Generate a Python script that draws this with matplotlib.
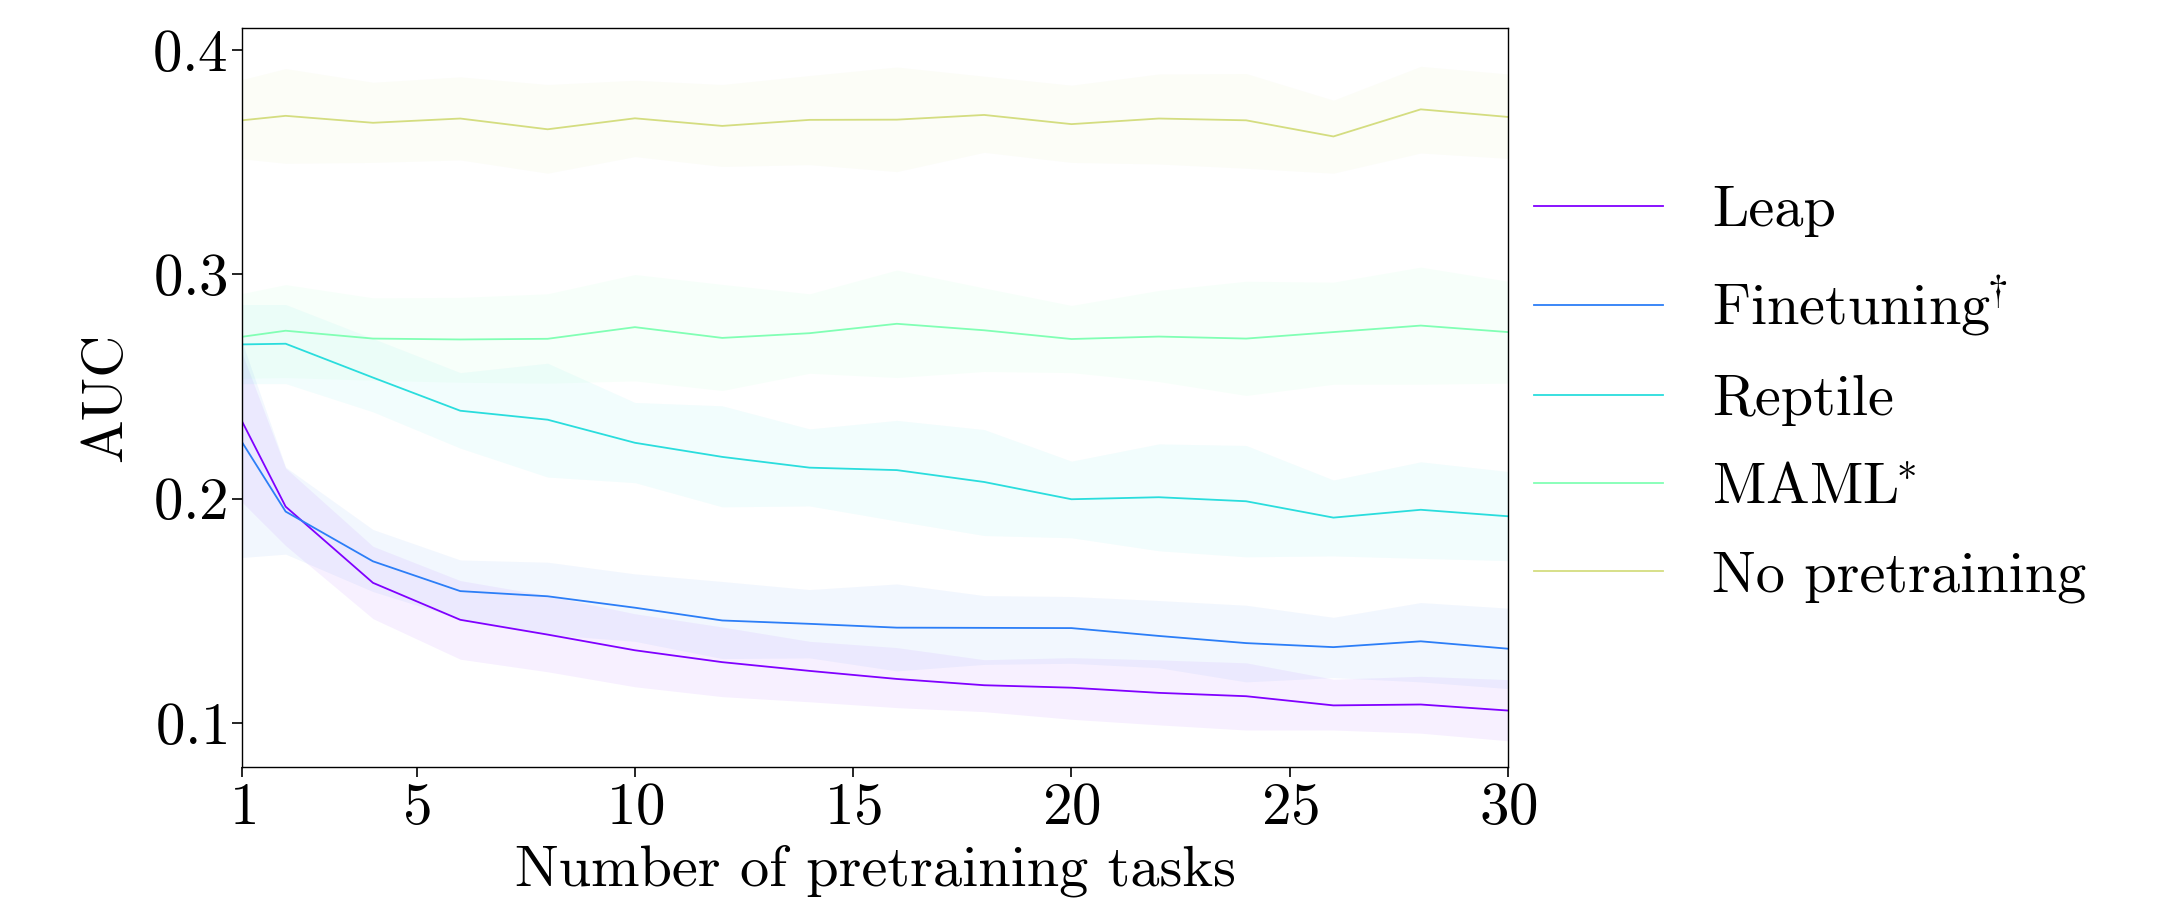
import matplotlib
matplotlib.use("Agg")
import matplotlib.pyplot as plt
import numpy as np

plt.rcParams['font.family'] = ['cmr10', 'DejaVu Serif']
plt.rcParams['mathtext.fontset'] = 'cm'
plt.rcParams['axes.formatter.use_mathtext'] = True

x = [1, 2, 4, 6, 8, 10, 12, 14, 16, 18, 20, 22, 24, 26, 28, 30]

labels = ['Leap', r'$\mathrm{Finetuning}^{\!\!\dagger}$', 'Reptile', r'$\mathrm{MAML}^{\!\!*}$', 'No pretraining']

leap_mean = [0.2345, 0.1964, 0.1624, 0.1459, 0.1393, 0.1323, 0.1270, 0.1231, 0.1195, 0.1167, 0.1156, 0.1133, 0.1118, 0.1077, 0.1081, 0.1054]
leap_upper = [0.2650, 0.2136, 0.1787, 0.1634, 0.1567, 0.1486, 0.1427, 0.1363, 0.1335, 0.1281, 0.1290, 0.1280, 0.1267, 0.1194, 0.1207, 0.1192]
leap_lower = [0.1984, 0.1790, 0.1464, 0.1283, 0.1227, 0.1160, 0.1116, 0.1093, 0.1067, 0.1049, 0.1015, 0.0990, 0.0967, 0.0967, 0.0953, 0.0919]

ft_mean = [0.2252, 0.1942, 0.1720, 0.1587, 0.1564, 0.1513, 0.1456, 0.1441, 0.1424, 0.1423, 0.1422, 0.1387, 0.1355, 0.1337, 0.1363, 0.1330]
ft_upper = [0.2700, 0.2140, 0.1862, 0.1726, 0.1716, 0.1664, 0.1630, 0.1594, 0.1619, 0.1567, 0.1563, 0.1545, 0.1524, 0.1470, 0.1536, 0.1511]
ft_lower = [0.1737, 0.1752, 0.1585, 0.1464, 0.1393, 0.1363, 0.1286, 0.1289, 0.1231, 0.1260, 0.1265, 0.1245, 0.1182, 0.1201, 0.1182, 0.1152]

rep_mean = [0.2688, 0.2691, 0.2540, 0.2392, 0.2352, 0.2249, 0.2186, 0.2138, 0.2127, 0.2074, 0.1997, 0.2006, 0.1988, 0.1915, 0.1950, 0.1921]
rep_upper = [0.2866, 0.2866, 0.2714, 0.2562, 0.2604, 0.2429, 0.2414, 0.2311, 0.2349, 0.2308, 0.2167, 0.2244, 0.2237, 0.2083, 0.2164, 0.2121]
rep_lower = [0.2513, 0.2513, 0.2387, 0.2225, 0.2096, 0.2071, 0.1963, 0.1967, 0.1900, 0.1835, 0.1825, 0.1767, 0.1740, 0.1744, 0.1733, 0.1723]

maml_mean = [0.2722, 0.2749, 0.2714, 0.2710, 0.2713, 0.2765, 0.2717, 0.2738, 0.2780, 0.2751, 0.2712, 0.2723, 0.2714, 0.2743, 0.2772, 0.2743]
maml_upper = [0.2915, 0.2955, 0.2896, 0.2898, 0.2914, 0.3000, 0.2956, 0.2914, 0.3020, 0.2940, 0.2862, 0.2929, 0.2970, 0.2966, 0.3033, 0.2970]
maml_lower = [0.2537, 0.2540, 0.2528, 0.2519, 0.2515, 0.2525, 0.2482, 0.2559, 0.2540, 0.2567, 0.2562, 0.2522, 0.2460, 0.2510, 0.2510, 0.2515]

nopre_mean = [0.3688, 0.3708, 0.3677, 0.3696, 0.3648, 0.3697, 0.3663, 0.3690, 0.3691, 0.3712, 0.3671, 0.3696, 0.3688, 0.3616, 0.3737, 0.3703]
nopre_upper = [0.3870, 0.3919, 0.3858, 0.3882, 0.3848, 0.3867, 0.3848, 0.3888, 0.3926, 0.3885, 0.3845, 0.3895, 0.3897, 0.3778, 0.3929, 0.3895]
nopre_lower = [0.3516, 0.3496, 0.3500, 0.3511, 0.3452, 0.3526, 0.3482, 0.3490, 0.3459, 0.3545, 0.3500, 0.3493, 0.3474, 0.3452, 0.3542, 0.3518]

means = [leap_mean, ft_mean, rep_mean, maml_mean, nopre_mean]
uppers = [leap_upper, ft_upper, rep_upper, maml_upper, nopre_upper]
lowers = [leap_lower, ft_lower, rep_lower, maml_lower, nopre_lower]

colors = plt.cm.rainbow(np.linspace(0, 1, 7))[:5]

fig = plt.figure(figsize=(21.84, 9.09), dpi=100)
ax = fig.add_axes([0.1108, 0.1557, 0.5797, 0.8135])

for m, u, l, c, lab in zip(means, uppers, lowers, colors, labels):
    ax.fill_between(x, l, u, color=c, alpha=0.06, linewidth=0)
    ax.plot(x, m, color=c, linewidth=1.3, label=lab)

ax.set_xlim(1, 30)
ax.set_ylim(0.08, 0.41)
ax.set_xticks([1, 5, 10, 15, 20, 25, 30])
ax.set_yticks([0.1, 0.2, 0.3, 0.4])
ax.tick_params(labelsize=42.5, length=7, width=1.2)
ax.set_xlabel('Number of pretraining tasks', fontsize=42, labelpad=6)
ax.set_ylabel('AUC', fontsize=42, labelpad=14)
for s in ax.spines.values():
    s.set_linewidth(1.0)

ax.legend(loc='center left', bbox_to_anchor=(1.0, 0.505), frameon=False,
          fontsize=42, handlelength=2.2, handletextpad=0.85,
          labelspacing=0.62, borderaxespad=0.0, borderpad=0.45)

fig.savefig('out.png', dpi=100)
